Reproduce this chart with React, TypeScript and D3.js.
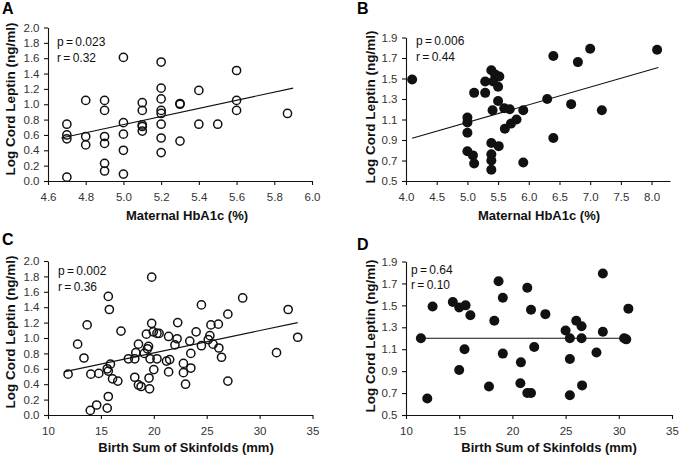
import * as d3 from 'd3';
import { useEffect, useRef } from 'react';

const FONT = '"Liberation Sans", Arial, Helvetica, sans-serif';

// Panel A: maternal HbA1c (%) vs log cord leptin, open circles
const hba1cA = [4.7, 4.7, 4.7, 4.7, 4.8, 4.8, 4.8, 4.9, 4.9, 4.9, 4.9, 4.9, 4.9,
  5.0, 5.0, 5.0, 5.0, 5.0, 5.1, 5.1, 5.1, 5.1, 5.1, 5.2, 5.2, 5.2, 5.2, 5.2, 5.2, 5.2, 5.2,
  5.3, 5.3, 5.3, 5.4, 5.4, 5.5, 5.6, 5.6, 5.6, 5.87];
const leptinA = [0.74, 0.60, 0.55, 0.05, 1.05, 0.58, 0.47, 1.05, 0.92, 0.58, 0.49, 0.23, 0.13,
  1.61, 0.76, 0.61, 0.40, 0.09, 1.02, 0.92, 0.73, 0.71, 0.65, 1.55, 1.21, 1.07, 0.92, 0.88, 0.74, 0.56, 0.37,
  1.01, 1.00, 0.52, 1.18, 0.74, 0.74, 1.44, 1.05, 0.92, 0.88];
const fitA = [[4.67, 0.56], [5.9, 1.21]];

// Panel B: maternal HbA1c (%) vs log cord leptin, filled circles
const hba1cB = [4.10, 5.0, 5.0, 5.0, 5.0, 5.09, 5.11, 5.11, 5.29, 5.29, 5.39, 5.45, 5.42, 5.52, 5.50,
  5.50, 5.41, 5.39, 5.51, 5.39, 5.39, 5.39, 5.60, 5.69, 5.61, 5.71, 5.80, 5.91, 5.91,
  6.30, 6.40, 6.40, 6.69, 6.80, 7.00, 7.19, 8.09];
const leptinB = [1.49, 1.12, 1.07, 0.97, 0.79, 0.75, 0.67, 1.36, 1.47, 1.36, 1.58, 1.54, 1.47, 1.52, 1.42,
  1.28, 1.19, 0.87, 0.84, 0.76, 0.70, 0.61, 1.21, 1.20, 1.01, 1.06, 1.10, 1.19, 0.68,
  1.30, 1.72, 0.92, 1.25, 1.66, 1.79, 1.19, 1.78];
const fitB = [[4.10, 0.917], [8.11, 1.607]];

// Panel C: birth sum of skinfolds (mm) vs log cord leptin, open circles
const skinC = [11.9, 12.8, 13.4, 13.7, 14.0, 14.05, 14.6, 14.8, 15.6, 15.7, 15.8, 15.7, 15.9, 15.7, 15.6,
  16.1, 16.6, 16.9, 17.6, 18.2, 18.3, 18.2, 18.55, 18.8, 18.55, 19.1, 19.3, 19.5, 19.4, 19.6, 19.55,
  19.8, 19.8, 19.65, 20.0, 19.95, 20.3, 20.5, 20.3, 21.4, 21.2, 21.4,
  22.26, 22.2, 22.0, 21.5, 22.8, 22.8, 23.5, 23.5, 23.4, 23.0, 24.0, 24.5, 24.5, 25.15, 25.3, 25.4,
  26.1, 25.6, 26.15, 26.4, 27.0, 27.0, 28.4, 31.6, 32.7, 33.6];
const leptinC = [0.53, 0.92, 0.74, 1.17, 0.06, 0.53, 0.13, 0.54, 0.60, 1.54, 1.37, 0.57, 0.66, 0.24, 0.09,
  0.47, 0.44, 1.09, 0.73, 0.73, 0.81, 0.49, 0.39, 0.37, 0.92, 0.80, 1.05, 0.89, 0.86, 0.34, 0.48,
  1.79, 1.19, 0.73, 0.59, 1.08, 1.06, 1.06, 0.73, 1.02, 0.70, 0.56,
  1.20, 0.99, 0.91, 0.72, 0.67, 0.55, 0.61, 0.80, 0.96, 0.40, 1.08, 1.43, 0.90, 0.98, 1.03, 1.17,
  1.18, 0.92, 0.87, 0.75, 1.31, 0.44, 1.52, 0.81, 1.37, 1.01];
const fitC = [[11.5, 0.56], [33.6, 1.20]];

// Panel D: birth sum of skinfolds (mm) vs log cord leptin, filled circles
const skinD = [11.4, 12.0, 12.5, 14.4, 15.0, 15.6, 16.05, 15.5, 15.0, 17.8, 18.3, 18.7, 19.1, 19.1,
  21.4, 21.75, 23.1, 22.05, 20.8, 20.75, 21.4, 21.75, 25.0, 25.4, 26.0, 26.5, 26.5, 25.4, 26.55,
  25.4, 27.9, 28.5, 28.5, 30.5, 30.7, 30.9];
const leptinD = [1.20, 0.65, 1.49, 1.53, 1.48, 1.50, 1.41, 1.10, 0.91, 0.76, 1.36, 1.72, 1.57, 1.06,
  1.66, 1.46, 1.42, 1.12, 0.98, 0.79, 0.70, 0.70, 1.27, 1.20, 1.36, 1.31, 1.20, 1.01, 0.77,
  0.68, 1.07, 1.79, 1.26, 1.20, 1.19, 1.47];
const fitD = [[11.4, 1.20], [30.6, 1.20]];

// tick values
const ticksHbA1cA = [4.6, 4.8, 5.0, 5.2, 5.4, 5.6, 5.8, 6.0];
const ticksHbA1cB = [4.0, 4.5, 5.0, 5.5, 6.0, 6.5, 7.0, 7.5, 8.0];
const ticksSkin = [10, 15, 20, 25, 30, 35];
const ticksLeptin0 = [0, 0.2, 0.4, 0.6, 0.8, 1.0, 1.2, 1.4, 1.6, 1.8, 2.0];
const ticksLeptin05 = [0.5, 0.7, 0.9, 1.1, 1.3, 1.5, 1.7, 1.9];

const Panel = ({ cfg }) => {
  const ref = useRef(null);

  useEffect(() => {
    const g = d3.select(ref.current);
    g.selectAll('*').remove();

    const x = d3.scaleLinear().domain(cfg.xDomain).range(cfg.xRange);
    const y = d3.scaleLinear().domain(cfg.yDomain).range(cfg.yRange);

    const xAxis = g.append('g')
      .attr('transform', `translate(0,${cfg.yRange[0]})`)
      .call(d3.axisBottom(x).tickValues(cfg.xTicks).tickFormat(d3.format(cfg.xFormat))
        .tickSize(4).tickSizeOuter(0).tickPadding(8));

    const yAxis = g.append('g')
      .attr('transform', `translate(${cfg.xRange[0]},0)`)
      .call(d3.axisLeft(y).tickValues(cfg.yTicks).tickFormat(d3.format('.1f'))
        .tickSize(4).tickSizeOuter(0).tickPadding(4.5));

    [xAxis, yAxis].forEach(a => {
      a.attr('font-family', FONT).attr('font-size', 11.5);
      a.selectAll('path, line').attr('stroke', '#111').attr('stroke-width', 1.1);
      a.selectAll('text').attr('fill', '#333');
    });

    // regression line
    g.append('path')
      .attr('d', d3.line().x(d => x(d[0])).y(d => y(d[1]))(cfg.fit))
      .attr('stroke', '#111')
      .attr('stroke-width', 1.1)
      .attr('fill', 'none');

    g.selectAll('.pt')
      .data(d3.range(cfg.xs.length))
      .enter()
      .append('circle')
      .attr('class', 'pt')
      .attr('cx', i => x(cfg.xs[i]))
      .attr('cy', i => y(cfg.ys[i]))
      .attr('r', cfg.filled ? 5 : 4.1)
      .attr('fill', cfg.filled ? '#111' : 'none')
      .attr('stroke', '#111')
      .attr('stroke-width', cfg.filled ? 0 : 1.5);

    // panel letter
    g.append('text')
      .attr('x', cfg.letterPos[0]).attr('y', cfg.letterPos[1])
      .attr('font-family', FONT).attr('font-size', 16).attr('font-weight', 'bold')
      .text(cfg.letter);

    // stats
    g.selectAll('.stat')
      .data(cfg.stats)
      .enter()
      .append('text')
      .attr('class', 'stat')
      .attr('x', cfg.statPos[0])
      .attr('y', (d, i) => cfg.statPos[1] + i * 15.5)
      .attr('font-family', FONT).attr('font-size', 12)
      .attr('word-spacing', -1)
      .attr('fill', '#111')
      .text(d => d);

    // axis titles
    g.append('text')
      .attr('x', cfg.xTitlePos[0]).attr('y', cfg.xTitlePos[1])
      .attr('text-anchor', 'middle')
      .attr('font-family', FONT).attr('font-size', 13).attr('font-weight', 'bold')
      .attr('fill', '#111')
      .text(cfg.xTitle);

    g.append('text')
      .attr('transform', `translate(${cfg.yTitlePos[0]},${cfg.yTitlePos[1]}) rotate(-90)`)
      .attr('text-anchor', 'middle')
      .attr('font-family', FONT).attr('font-size', 13.5).attr('font-weight', 'bold')
      .attr('fill', '#111')
      .text('Log Cord Leptin (ng/ml)');
  }, [cfg]);

  return <g ref={ref}></g>;
};

const panels = [
  {
    letter: 'A', letterPos: [2, 13.5], xs: hba1cA, ys: leptinA, fit: fitA, filled: false,
    xDomain: [4.6, 6.0], xRange: [48, 312], yDomain: [0, 2], yRange: [181, 27.5],
    xTicks: ticksHbA1cA, yTicks: ticksLeptin0, xFormat: '.1f',
    stats: ['p = 0.023', 'r = 0.32'], statPos: [57, 46],
    xTitle: 'Maternal HbA1c (%)', xTitlePos: [187, 220], yTitlePos: [15, 99],
  },
  {
    letter: 'B', letterPos: [357, 13.5], xs: hba1cB, ys: leptinB, fit: fitB, filled: true,
    xDomain: [4.0, 8.3], xRange: [406, 670], yDomain: [0.5, 1.9], yRange: [181, 37.5],
    xTicks: ticksHbA1cB, yTicks: ticksLeptin05, xFormat: '.1f',
    stats: ['p = 0.006', 'r = 0.44'], statPos: [416, 45],
    xTitle: 'Maternal HbA1c (%)', xTitlePos: [539, 220], yTitlePos: [375, 107],
  },
  {
    letter: 'C', letterPos: [2, 245], xs: skinC, ys: leptinC, fit: fitC, filled: false,
    xDomain: [10, 35], xRange: [48, 312.5], yDomain: [0, 2], yRange: [415, 261],
    xTicks: ticksSkin, yTicks: ticksLeptin0, xFormat: 'd',
    stats: ['p = 0.002', 'r = 0.36'], statPos: [58, 275],
    xTitle: 'Birth Sum of Skinfolds (mm)', xTitlePos: [186, 452], yTitlePos: [15, 332],
  },
  {
    letter: 'D', letterPos: [357, 250], xs: skinD, ys: leptinD, fit: fitD, filled: true,
    xDomain: [10, 35], xRange: [406, 672], yDomain: [0.5, 1.9], yRange: [415, 261.5],
    xTicks: ticksSkin, yTicks: ticksLeptin05, xFormat: 'd',
    stats: ['p = 0.64', 'r = 0.10'], statPos: [411, 273.5],
    xTitle: 'Birth Sum of Skinfolds (mm)', xTitlePos: [549, 452], yTitlePos: [375, 336],
  },
];

export default function App() {
  return (
    <svg width={685} height={456} style={{ position: 'absolute', left: 0, top: 0, background: '#fff' }}>
      {panels.map(p => <Panel key={p.letter} cfg={p} />)}
    </svg>
  );
}
